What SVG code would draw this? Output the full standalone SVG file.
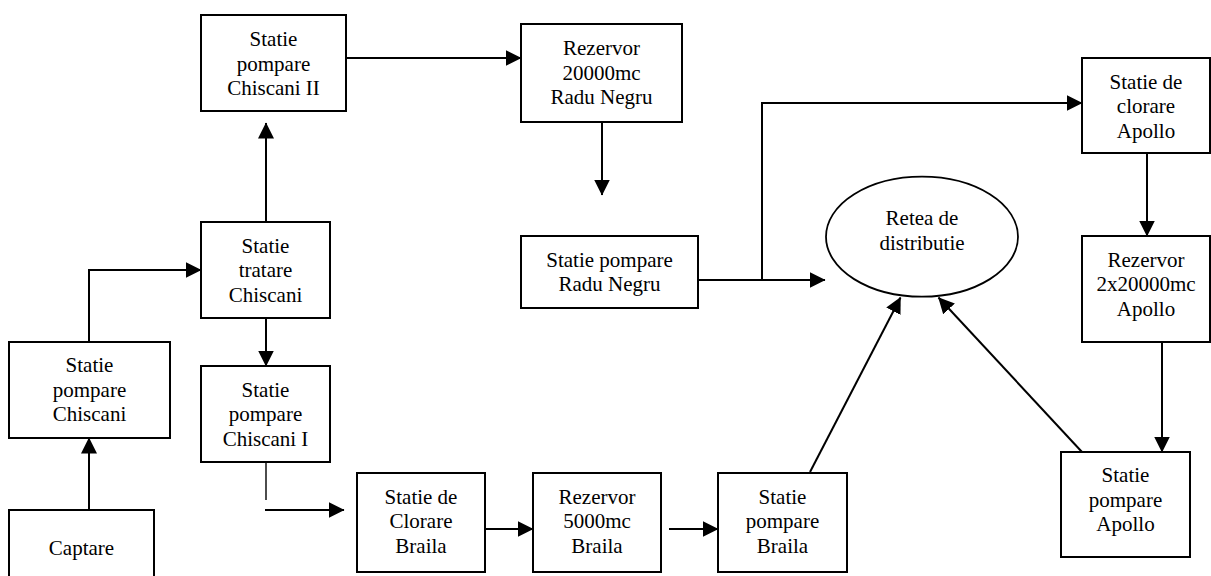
<svg xmlns="http://www.w3.org/2000/svg" width="1211" height="576" viewBox="0 0 1211 576">
<defs>
<style>
.box{fill:#fff;stroke:#000;stroke-width:2}
.ell{fill:#fff;stroke:#000;stroke-width:1.8}
.t{font-family:'Liberation Serif','DejaVu Serif',serif;font-size:21px;fill:#000;text-anchor:middle}
.c{fill:none;stroke:#000;stroke-width:2}
.a{marker-end:url(#ah)}
.thin{stroke-width:1.4}
</style>
<marker id="ah" markerUnits="userSpaceOnUse" markerWidth="17" markerHeight="17" refX="15.5" refY="8" orient="auto">
<path d="M0,0 L16,8 L0,16 z" fill="#000"/>
</marker>
</defs>
<rect width="1211" height="576" fill="#fff"/>
<g id="connectors">
<path class="c a" d="M89,510 V438"/>
<path class="c a" d="M89,342 V270 H201"/>
<path class="c a" d="M266,222 V123"/>
<path class="c a" d="M266,318 V366"/>
<path class="c thin" d="M266,462 V500"/>
<path class="c a" d="M265,510 H344"/>
<path class="c a" d="M485,529 H533"/>
<path class="c a" d="M669,529 H718"/>
<path class="c a" d="M810,472 L900.5,297.5"/>
<path class="c a" d="M1082,452 L938.5,297.5"/>
<path class="c a" d="M346,58 H521"/>
<path class="c a" d="M602,122 V195"/>
<path class="c a" d="M698,280 H825"/>
<path class="c a" d="M762,280 V103 H1082"/>
<path class="c a" d="M1147,153 V236"/>
<path class="c a" d="M1162,342 V452"/>
</g>
<g font-family="'Liberation Serif', 'DejaVu Serif', serif">
<g id="captare">
<rect class="box" x="9" y="510" width="145" height="80"/>
<text class="t" x="81.5" y="555">Captare</text>
</g>
<g id="statie-pompare-chiscani">
<rect class="box" x="9" y="342" width="161" height="96"/>
<text class="t" x="89.5" y="372">Statie</text>
<text class="t" x="89.5" y="396.7">pompare</text>
<text class="t" x="89.5" y="421.3">Chiscani</text>
</g>
<g id="statie-tratare-chiscani">
<rect class="box" x="201" y="222" width="129" height="96"/>
<text class="t" x="265.5" y="252.5">Statie</text>
<text class="t" x="265.5" y="277.2">tratare</text>
<text class="t" x="265.5" y="301.8">Chiscani</text>
</g>
<g id="statie-pompare-chiscani-ii">
<rect class="box" x="201" y="15" width="145" height="96"/>
<text class="t" x="273.5" y="46">Statie</text>
<text class="t" x="273.5" y="70.7">pompare</text>
<text class="t" x="273.5" y="95.4">Chiscani II</text>
</g>
<g id="statie-pompare-chiscani-i">
<rect class="box" x="201" y="366" width="129" height="96"/>
<text class="t" x="265.5" y="396.7">Statie</text>
<text class="t" x="265.5" y="421.4">pompare</text>
<text class="t" x="265.5" y="446">Chiscani I</text>
</g>
<g id="statie-clorare-braila">
<rect class="box" x="357" y="473" width="128" height="99"/>
<text class="t" x="421" y="503.5">Statie de</text>
<text class="t" x="421" y="528.2">Clorare</text>
<text class="t" x="421" y="552.8">Braila</text>
</g>
<g id="rezervor-5000-braila">
<rect class="box" x="533" y="473" width="128" height="99"/>
<text class="t" x="597" y="503.5">Rezervor</text>
<text class="t" x="597" y="528.2">5000mc</text>
<text class="t" x="597" y="552.8">Braila</text>
</g>
<g id="statie-pompare-braila">
<rect class="box" x="718" y="473" width="129" height="99"/>
<text class="t" x="782.5" y="503.5">Statie</text>
<text class="t" x="782.5" y="528.2">pompare</text>
<text class="t" x="782.5" y="552.8">Braila</text>
</g>
<g id="rezervor-20000-radu-negru">
<rect class="box" x="521" y="24" width="161" height="98"/>
<text class="t" x="601.5" y="55">Rezervor</text>
<text class="t" x="601.5" y="79.7">20000mc</text>
<text class="t" x="601.5" y="104.4">Radu Negru</text>
</g>
<g id="statie-pompare-radu-negru">
<rect class="box" x="521" y="236" width="177" height="72"/>
<text class="t" x="609.5" y="266.7">Statie pompare</text>
<text class="t" x="609.5" y="291.3">Radu Negru</text>
</g>
<g id="retea-distributie">
<ellipse class="ell" cx="922" cy="236.7" rx="96" ry="60"/>
<text class="t" x="922" y="225">Retea de</text>
<text class="t" x="922" y="250">distributie</text>
</g>
<g id="statie-clorare-apollo">
<rect class="box" x="1082" y="58" width="128" height="95"/>
<text class="t" x="1146" y="88.5">Statie de</text>
<text class="t" x="1146" y="113.2">clorare</text>
<text class="t" x="1146" y="137.8">Apollo</text>
</g>
<g id="rezervor-apollo">
<rect class="box" x="1082" y="236" width="128" height="106"/>
<text class="t" x="1146" y="266.5">Rezervor</text>
<text class="t" x="1146" y="291.2">2x20000mc</text>
<text class="t" x="1146" y="315.8">Apollo</text>
</g>
<g id="statie-pompare-apollo">
<rect class="box" x="1061" y="452" width="129" height="105"/>
<text class="t" x="1125.5" y="482">Statie</text>
<text class="t" x="1125.5" y="506.5">pompare</text>
<text class="t" x="1125.5" y="531">Apollo</text>
</g>
</g>
</svg>
